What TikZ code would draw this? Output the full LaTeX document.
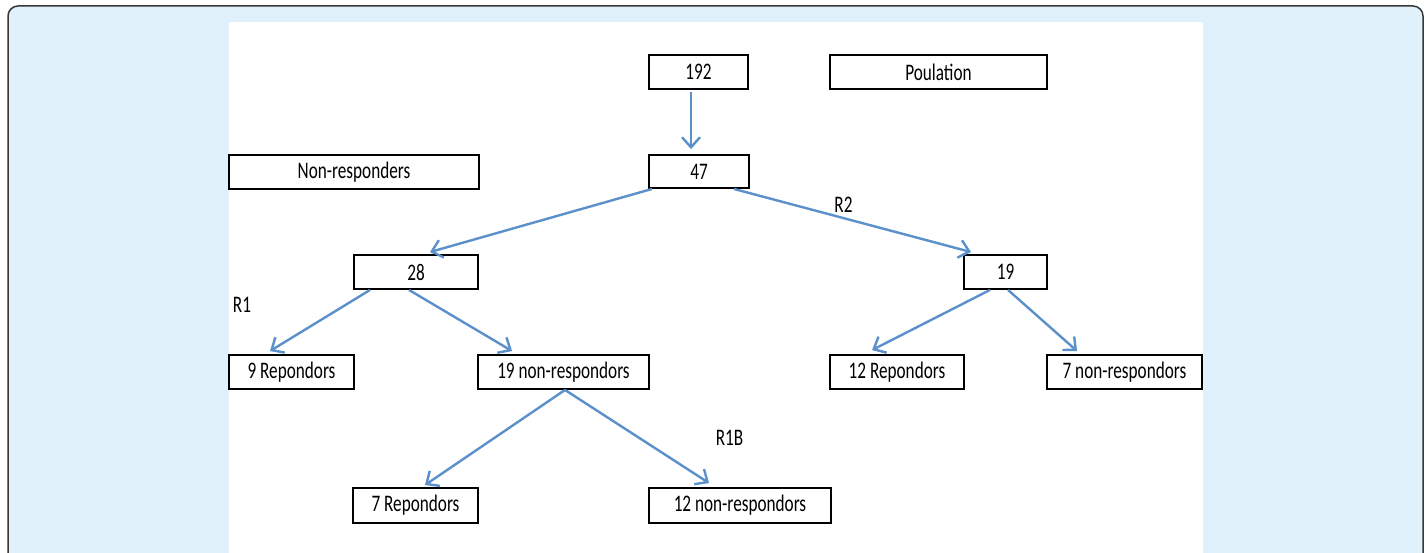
\documentclass[tikz,border=0pt]{standalone}
\usepackage{fontspec}
\setmainfont{Carlito}
\usepackage{graphicx}
\usetikzlibrary{arrows.meta,calc}
\definecolor{bgblue}{HTML}{E0F1FC}
\definecolor{arrcol}{HTML}{5B90CB}
\newcommand{\tx}[1]{\scalebox{1}[1.38]{#1}}
\begin{document}
\begin{tikzpicture}[x=1pt,y=-1pt,
  box/.style={draw=black, line width=1.9pt, fill=white, inner sep=0pt, font=\fontsize{17.2}{20}\selectfont},
  lbl/.style={inner sep=0pt, font=\fontsize{17.2}{20}\selectfont},
  conn/.style={draw=arrcol, line width=2.4pt, -{Straight Barb[length=10pt,width=18pt]}}]
\useasboundingbox (0,0) rectangle (1426,553);
\begin{scope}
\clip (0,0) rectangle (1426,553);
\draw[fill=bgblue, draw=black!78, line width=1.5pt, rounded corners=10pt] (8,6) rectangle (1423,580);
\fill[white] (229,22) rectangle (1203,560);
\end{scope}
% boxes
\node[box, minimum width=99pt, minimum height=34pt] (n192) at (698.5,72) {\tx{192}};
\node[box, minimum width=217pt, minimum height=34pt] (pop) at (938.5,72) {\tx{Poulation}};
\node[box, minimum width=100pt, minimum height=33pt] (n47) at (699,171.5) {\tx{47}};
\node[box, minimum width=250pt, minimum height=34pt] (nonr) at (354,172) {\tx{Non-responders}};
\node[box, minimum width=124pt, minimum height=34pt] (n28) at (416,272) {\tx{28}};
\node[box, minimum width=83pt, minimum height=34pt] (n19) at (1005.5,272) {\tx{19}};
\node[box, minimum width=125pt, minimum height=34pt] (r9) at (291.5,372) {\tx{9 Repondors}};
\node[box, minimum width=171pt, minimum height=34pt] (nr19) at (563.5,372) {\tx{19 non-respondors}};
\node[box, minimum width=134pt, minimum height=34pt] (r12) at (897,372) {\tx{12 Repondors}};
\node[box, minimum width=155pt, minimum height=34pt] (nr7) at (1124.5,372) {\tx{7 non-respondors}};
\node[box, minimum width=125pt, minimum height=35pt] (r7) at (415.5,505.5) {\tx{7 Repondors}};
\node[box, minimum width=182pt, minimum height=35pt] (nr12) at (740,505.5) {\tx{12 non-respondors}};
% labels
\node[lbl] (lR2) at (843.5,205) {\tx{R2}};
\node[lbl] (lR1) at (242,305) {\tx{R1}};
\node[lbl] (lR1B) at (729.5,438) {\tx{R1B}};
% connectors
\draw[conn] ($(n192.south)+(-7.5,2)$) -- ($(n47.north)+(-8,-5)$);
\draw[conn] ($(n47.south west)+(4,0)$) -- ($(n28.north)+(14,-2)$);
\draw[conn] ($(n47.south east)+(-16,0)$) -- ($(n19.north west)+(8,-2)$);
\draw[conn] ($(n28.south west)+(17,0)$) -- ($(r9.north)+(-21.5,-3)$);
\draw[conn] ($(n28.south)+(-7,0)$) -- ($(nr19.north west)+(35,-3)$);
\draw[conn] ($(n19.south)+(-15.5,0)$) -- ($(r12.north west)+(43,-4)$);
\draw[conn] ($(n19.south)+(2.5,0)$) -- ($(nr7.north west)+(31,-3)$);
\draw[conn] ($(nr19.south)+(1.5,0)$) -- ($(r7.north)+(9.5,-2)$);
\draw[conn] ($(nr19.south)+(1.5,0)$) -- ($(nr12.north west)+(61,-4)$);
\end{tikzpicture}
\end{document}
